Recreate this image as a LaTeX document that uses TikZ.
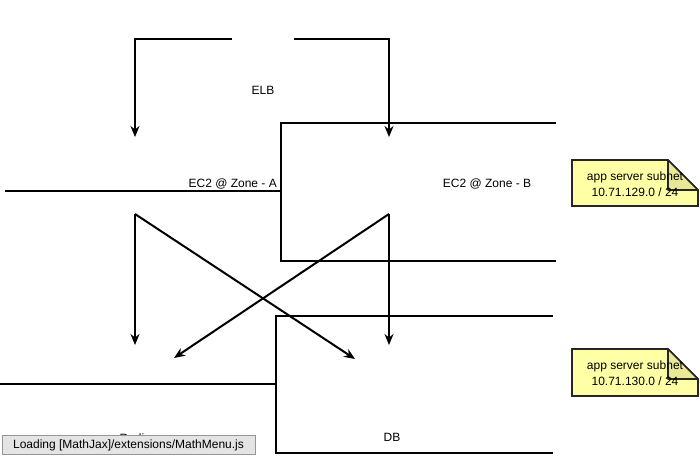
\documentclass[tikz,border=0pt]{standalone}
\usepackage{fontspec}
\setmainfont{Liberation Sans}
\usetikzlibrary{arrows.meta}
\definecolor{noteyellow}{RGB}{255,255,166}
\definecolor{notefold}{RGB}{232,232,150}
\definecolor{loadbg}{RGB}{228,228,228}
\definecolor{loadborder}{RGB}{150,150,150}
\begin{document}
\begin{tikzpicture}[x=1pt,y=-1pt,
  wire/.style={line width=2pt, line cap=butt, line join=miter},
  arr/.style={wire, -{Stealth[length=11pt,width=9pt,inset=3.5pt]}},
  lbl/.style={font=\fontsize{12}{14}\selectfont, inner sep=0pt},
  notebody/.style={fill=noteyellow, draw=black!85, line width=1.6pt},
  notefoldst/.style={fill=notefold, draw=black!85, line width=1.6pt, line join=round}]
\useasboundingbox (0,0) rectangle (700,457);

% labels
\node[lbl] (elb) at (263,90) {ELB};
\node[lbl, anchor=east] (eca) at (277,184) {EC2 @ Zone - A};
\node[lbl] (ecb) at (487,184) {EC2 @ Zone - B};
\node[lbl] (redis) at (135,438) {Redis};
\node[lbl] (db) at (392,437) {DB};

% container outlines
\draw[wire] (556,123) -- (281,123) -- (281,261) -- (556,261);
\draw[wire] (5,191) -- (281,191);
\draw[wire] (553,316) -- (276,316) -- (276,453) -- (553,453);
\draw[wire] (0,384) -- (276,384);

% connector end points
\coordinate (elbL) at (232,39);
\coordinate (elbR) at (294,39);
\coordinate (ecAin) at (135,137);
\coordinate (ecBin) at (389,137);
\coordinate (ecAout) at (135,214);
\coordinate (ecBout) at (389,214);
\coordinate (redisIn) at (135,345);
\coordinate (redisInB) at (174,358);
\coordinate (dbIn) at (389,345);
\coordinate (dbInA) at (355,359);

% connectors
\draw[arr] (elbL) -| (ecAin);
\draw[arr] (elbR) -| (ecBin);
\draw[arr] (ecAout) -- (redisIn);
\draw[arr] (ecAout) -- (dbInA);
\draw[arr] (ecBout) -- (redisInB);
\draw[arr] (ecBout) -- (dbIn);

% notes
\draw[notebody] (572,160) -- (668,160) -- (698,190) -- (698,206) -- (572,206) -- cycle;
\draw[notefoldst] (668,160) -- (668,190) -- (698,190) -- cycle;
\node[lbl, align=center] (note1) at (635,184) {app server subnet\\[2pt]10.71.129.0 / 24};

\draw[notebody] (572,349) -- (668,349) -- (698,379) -- (698,396) -- (572,396) -- cycle;
\draw[notefoldst] (668,349) -- (668,379) -- (698,379) -- cycle;
\node[lbl, align=center] (note2) at (635,373) {app server subnet\\[2pt]10.71.130.0 / 24};

% loading banner
\node[draw=loadborder, fill=loadbg, line width=1pt, minimum width=253pt, minimum height=19pt,
  inner sep=0pt, font=\fontsize{12}{14}\selectfont] (loading) at (128.5,445) {Loading [MathJax]/extensions/MathMenu.js};
\end{tikzpicture}
\end{document}
